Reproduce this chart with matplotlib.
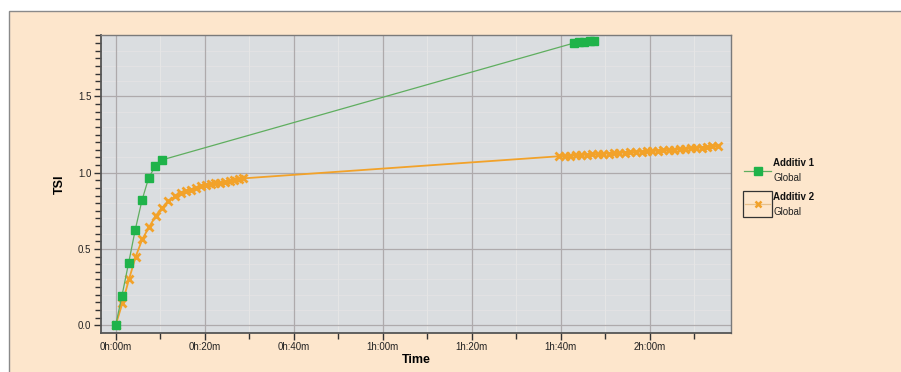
import matplotlib
matplotlib.use("Agg")
import matplotlib.pyplot as plt
from matplotlib.lines import Line2D
from matplotlib.patches import Rectangle
from matplotlib.ticker import MultipleLocator, FuncFormatter

plt.rcParams['font.family'] = ['Liberation Sans', 'DejaVu Sans']

# ---- data (time in minutes) ----
series_names = ["Additiv 1", "Additiv 2"]
series_sub = ["Global", "Global"]

t_add1 = [0.0, 1.4, 2.9, 4.4, 5.9, 7.4, 8.9, 10.3,
          103.1, 104.2, 105.3, 106.5, 107.6]
v_add1 = [0.000, 0.192, 0.407, 0.626, 0.818, 0.965, 1.044, 1.083,
          1.851, 1.854, 1.857, 1.861, 1.865]

t_add2 = [0.0, 1.5, 3.0, 4.5, 6.0, 7.5, 9.0, 10.35, 11.85, 13.35, 14.6, 15.8,
          16.9, 18.1, 19.2, 20.2, 21.4, 22.4, 23.5, 24.5, 25.6, 26.6, 27.7, 28.7,
          99.7, 100.9, 102.2, 103.4, 104.6, 105.9, 107.1, 108.3, 109.5, 110.8,
          112.0, 113.2, 114.5, 115.7, 116.9, 118.2, 119.4, 120.6, 121.8, 123.1,
          124.3, 125.5, 126.8, 128.0, 129.2, 130.4, 131.7, 132.9, 134.1, 135.3]
v_add2 = [0.000, 0.144, 0.302, 0.450, 0.565, 0.643, 0.718, 0.768, 0.812, 0.845, 0.867, 0.880,
          0.888, 0.899, 0.910, 0.917, 0.923, 0.930, 0.934, 0.941, 0.945, 0.949, 0.956, 0.963,
          1.108, 1.110, 1.112, 1.114, 1.116, 1.118, 1.120, 1.122, 1.124, 1.126,
          1.128, 1.130, 1.132, 1.134, 1.136, 1.138, 1.140, 1.142, 1.144, 1.146,
          1.149, 1.151, 1.154, 1.156, 1.159, 1.162, 1.165, 1.168, 1.172, 1.176]

x_ticks = [0, 20, 40, 60, 80, 100, 120]
y_ticks = [0.0, 0.5, 1.0, 1.5]

green_line = "#5fae5f"
green_mark = "#1fb34a"
orange = "#f2a22a"
peach = "#fde6cc"

W, H = 901, 372
fig = plt.figure(figsize=(W / 100, H / 100), dpi=100)
fig.patch.set_facecolor("white")

# outer peach frame
fig.add_artist(Rectangle((9 / W, -0.01), 1.0, (H - 11) / H + 0.01,
                         transform=fig.transFigure, facecolor=peach,
                         edgecolor="#8a8a8a", linewidth=1.0, zorder=0))

ax = fig.add_axes([101 / W, (H - 332.7) / H, 630 / W, (332.7 - 35) / H])
ax.set_facecolor("#dadde0")
ax.set_xlim(-3.3, 138.3)
ax.set_ylim(-0.049, 1.903)

ax.set_xticks(x_ticks)
ax.xaxis.set_minor_locator(MultipleLocator(10))
ax.xaxis.set_major_formatter(FuncFormatter(lambda v, p: f"{int(v)//60}h:{int(v)%60:02d}m"))
ax.set_yticks(y_ticks)
ax.yaxis.set_minor_locator(MultipleLocator(0.05))
ax.yaxis.set_major_formatter(FuncFormatter(lambda v, p: f"{v:.1f}"))

ax.grid(which="major", axis="both", color="#aeaaac", linewidth=0.9, zorder=0)
ax.grid(which="minor", axis="x", color="#e6e6e6", linewidth=0.7, zorder=0)
# light horizontal minor grid (every 0.1)
for yv in [0.1, 0.2, 0.3, 0.4, 0.6, 0.7, 0.8, 0.9, 1.1, 1.2, 1.3, 1.4, 1.6, 1.7, 1.8, 1.9]:
    ax.axhline(yv, color="#e4e2e4", linewidth=0.6, zorder=0)
ax.set_axisbelow(True)

ax.tick_params(which="both", direction="out", colors="#333333", labelsize=7,
               labelcolor="#222222")
ax.tick_params(which="major", length=5, width=1)
ax.tick_params(which="minor", length=4, width=1)
ax.tick_params(axis="x", pad=1.5)
ax.tick_params(axis="y", pad=2)

for s in ["left", "bottom"]:
    ax.spines[s].set_color("#555555")
    ax.spines[s].set_linewidth(1.3)
for s in ["top", "right"]:
    ax.spines[s].set_color("#7a7a7a")
    ax.spines[s].set_linewidth(1.0)

ax.plot(t_add1, v_add1, color=green_line, linewidth=0.9, marker="s", markersize=5.5,
        markerfacecolor=green_mark, markeredgecolor=green_mark, zorder=4)
ax.plot(t_add2, v_add2, color=orange, linewidth=1.3, marker="x", markersize=5.5,
        markeredgewidth=2.0, markeredgecolor=orange, zorder=3)

ax.set_xlabel("Time", fontsize=9, fontweight="bold", labelpad=1.5)
ax.set_ylabel("TSI", fontsize=9, fontweight="bold", labelpad=9)

# legend (manual)
def fx(px):
    return px / W

def fy(py):
    return (H - py) / H

fig.add_artist(Line2D([fx(744), fx(771)], [fy(171), fy(171)], transform=fig.transFigure,
                      color=green_line, linewidth=0.9))
fig.add_artist(Line2D([fx(758)], [fy(171)], transform=fig.transFigure, marker="s",
                      markersize=5.5, markerfacecolor=green_mark, markeredgecolor=green_mark,
                      linestyle="none"))
fig.add_artist(Rectangle((fx(743), fy(217)), (772 - 743) / W, (217 - 191) / H,
                         transform=fig.transFigure, facecolor="none",
                         edgecolor="#333333", linewidth=0.9))
fig.add_artist(Line2D([fx(745), fx(770)], [fy(204), fy(204)], transform=fig.transFigure,
                      color="#e8c08a", linewidth=0.9))
fig.add_artist(Line2D([fx(758)], [fy(204)], transform=fig.transFigure, marker="x",
                      markersize=4.5, markeredgewidth=1.8, markeredgecolor=orange,
                      linestyle="none"))
for i, (yt, ys) in enumerate([(163, 178), (197, 212)]):
    fig.text(fx(773), fy(yt), series_names[i], fontsize=7, fontweight="bold",
             va="center", ha="left", color="#111111")
    fig.text(fx(773), fy(ys), series_sub[i], fontsize=7, va="center", ha="left",
             color="#222222")

fig.savefig("out.png", dpi=100, facecolor=fig.get_facecolor())
